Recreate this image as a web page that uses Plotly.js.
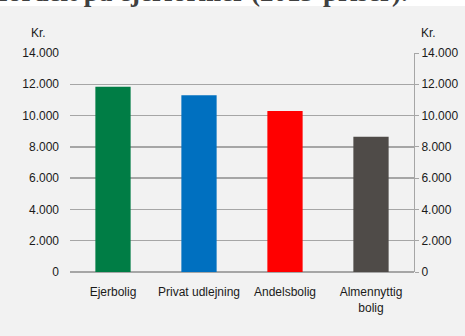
<!DOCTYPE html>
<html>
<head>
<meta charset="utf-8">
<script src="https://cdn.plot.ly/plotly-3.0.1.min.js"></script>
<style>html,body{margin:0;padding:0;background:#F2F2F2;}#chart{width:465px;height:336px;}</style>
</head>
<body>
<div id="chart"></div>
<script>
var categories = ["Ejerbolig", "Privat udlejning", "Andelsbolig", "Almennyttig<br>bolig"];
var values = [11850, 11300, 10300, 8650];
var barColors = ["#007D45", "#0070C0", "#FF0000", "#4F4B48"];
var titleText = "fordelt på ejerformer (2013-priser).";
var unitLabel = "Kr.";

var W = 465, H = 336, L = 70, R = 51, T = 53, B = 64;
var pw = W - L - R, ph = H - T - B;
function px2x(p){ return (p - L) / pw; }
function py2y(p){ return 1 + (T - p) / ph; }

var traces = [
  {type: "bar", x: categories, y: values, marker: {color: barColors}, hoverinfo: "skip", showlegend: false},
  {type: "scatter", x: categories, y: values, yaxis: "y2", mode: "markers", marker: {opacity: 0}, hoverinfo: "skip", showlegend: false}
];

var gridC = "#A6A6A6";
var tickFont = {family: "Liberation Sans, Arial, sans-serif", size: 12, color: "#1a1a1a"};

var layout = {
  width: W, height: H,
  margin: {l: L, r: R, t: T, b: B, pad: 0},
  paper_bgcolor: "#F2F2F2",
  plot_bgcolor: "#F2F2F2",
  separators: ",.",
  bargap: 0.59,
  font: tickFont,
  xaxis: {
    showgrid: false, showline: false, ticks: "", tickfont: tickFont,
    ticklabelstandoff: 11, fixedrange: true
  },
  yaxis: {
    range: [0, 14000], dtick: 2000, tickformat: ",d",
    showgrid: true, gridcolor: gridC, gridwidth: 1.3,
    zeroline: true, zerolinecolor: gridC, zerolinewidth: 1.3,
    showline: false, ticks: "", tickfont: tickFont, ticklabelstandoff: 10, fixedrange: true
  },
  yaxis2: {
    overlaying: "y", side: "right", anchor: "x",
    range: [0, 14000], dtick: 2000, tickformat: ",d",
    showgrid: false, zeroline: false,
    showline: true, linecolor: gridC, linewidth: 1,
    ticks: "outside", ticklen: 4, tickcolor: gridC, tickwidth: 1,
    tickfont: tickFont, fixedrange: true
  },
  shapes: [
    {type: "rect", xref: "paper", yref: "paper", x0: px2x(-5), x1: px2x(W + 5), y0: py2y(6), y1: py2y(-5),
     fillcolor: "#FFFFFF", line: {width: 0}, layer: "above"}
  ],
  annotations: [
    {text: titleText, xref: "paper", yref: "paper", x: px2x(-3), y: py2y(9), xanchor: "left", yanchor: "bottom",
     showarrow: false, font: {family: "Liberation Serif, DejaVu Serif, serif", size: 27, color: "#404040", weight: "bold"}},
    {text: unitLabel, xref: "paper", yref: "paper", x: px2x(38), y: py2y(33), xanchor: "center", yanchor: "middle",
     showarrow: false, font: tickFont},
    {text: unitLabel, xref: "paper", yref: "paper", x: px2x(428), y: py2y(33), xanchor: "center", yanchor: "middle",
     showarrow: false, font: tickFont}
  ]
};

Plotly.newPlot("chart", traces, layout, {displayModeBar: false, staticPlot: true});
</script>
</body>
</html>
